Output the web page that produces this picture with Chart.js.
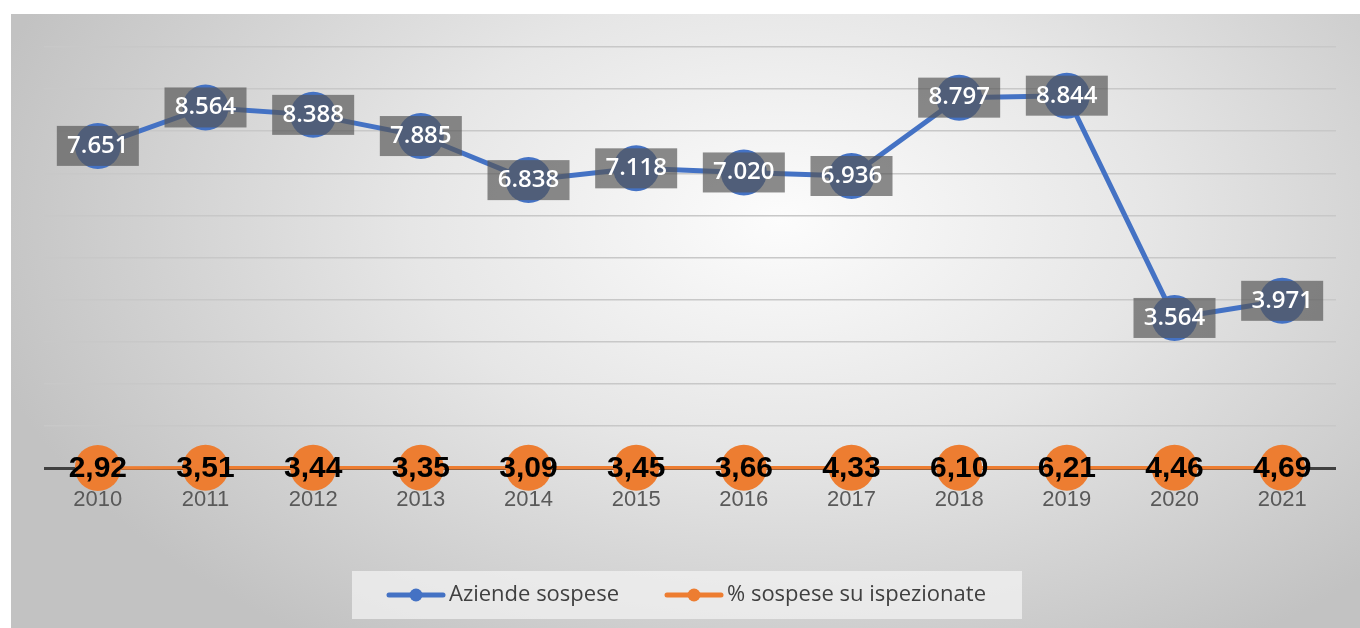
<!DOCTYPE html>
<html lang="it">
<head>
<meta charset="UTF-8">
<title>Aziende sospese</title>
<style>
  html, body { margin: 0; padding: 0; background: #fff; }
  #wrap { width: 1360px; height: 628px; }
</style>
</head>
<body>
<div id="wrap">
  <canvas id="myChart" width="1360" height="628"></canvas>
</div>
<script src="https://cdn.jsdelivr.net/npm/chart.js"></script>
<script>
    const years = ['2010', '2011', '2012', '2013', '2014', '2015', '2016', '2017', '2018', '2019', '2020', '2021'];
    const aziendeSospese = [7651, 8564, 8388, 7885, 6838, 7118, 7020, 6936, 8797, 8844, 3564, 3971];
    const percSospese = [2.92, 3.51, 3.44, 3.35, 3.09, 3.45, 3.66, 4.33, 6.10, 6.21, 4.46, 4.69];

    const BLUE = '#4472C4';
    const ORANGE = '#ED7D31';

    // thousands with a dot, decimals with a comma
    function fmtInt(v) {
        return String(v).replace(/\B(?=(\d{3})+(?!\d))/g, '.');
    }
    function fmtPerc(v) {
        return v.toFixed(2).replace('.', ',');
    }

    // legend marker: a short line with a dot in the middle
    function legendMarker(color) {
        const c = document.createElement('canvas');
        c.width = 60;
        c.height = 14;
        const g = c.getContext('2d');
        g.strokeStyle = color;
        g.lineWidth = 5;
        g.lineCap = 'round';
        g.beginPath();
        g.moveTo(3, 7);
        g.lineTo(57, 7);
        g.stroke();
        g.fillStyle = color;
        g.beginPath();
        g.arc(30, 7, 6.5, 0, Math.PI * 2);
        g.fill();
        return c;
    }
    const markers = [legendMarker(BLUE), legendMarker(ORANGE)];

    const background = {
        id: 'background',
        beforeDraw(chart) {
            const ctx = chart.ctx;
            ctx.save();
            ctx.fillStyle = '#ffffff';
            ctx.fillRect(0, 0, chart.width, chart.height);
            // grey panel with a soft light spot
            ctx.save();
            ctx.translate(780, 220);
            ctx.scale(1, 0.62);
            const grad = ctx.createRadialGradient(0, 0, 0, 0, 0, 820);
            grad.addColorStop(0, '#fcfcfc');
            grad.addColorStop(0.45, '#e6e6e6');
            grad.addColorStop(1, '#c2c2c2');
            ctx.fillStyle = grad;
            ctx.fillRect(-780, -1000, 2200, 2200);
            ctx.restore();
            ctx.fillStyle = '#ffffff';
            ctx.fillRect(0, 0, chart.width, 14);
            ctx.fillRect(0, 0, 11, chart.height);
            // legend panel
            const boxes = chart.legend.legendHitBoxes;
            if (boxes && boxes.length) {
                const left = Math.min(...boxes.map(b => b.left)) - 42;
                const right = Math.max(...boxes.map(b => b.left + b.width)) + 36;
                const cy = boxes[0].top + boxes[0].height / 2;
                ctx.fillStyle = 'rgba(242,242,242,0.75)';
                ctx.fillRect(left, cy - 24, right - left, 48);
            }
            ctx.restore();
        }
    };

    const valueLabels = {
        id: 'valueLabels',
        afterDatasetsDraw(chart) {
            const ctx = chart.ctx;
            ctx.save();
            ctx.textAlign = 'center';
            ctx.textBaseline = 'middle';
            chart.getDatasetMeta(0).data.forEach((pt, i) => {
                ctx.fillStyle = 'rgba(85,85,85,0.68)';
                ctx.fillRect(pt.x - 41, pt.y - 20, 82, 40);
                ctx.fillStyle = '#ffffff';
                ctx.font = '600 24px "Open Sans"';
                ctx.fillText(fmtInt(aziendeSospese[i]), pt.x, pt.y);
            });
            chart.getDatasetMeta(1).data.forEach((pt, i) => {
                ctx.fillStyle = '#000000';
                ctx.font = 'bold 30px "Liberation Sans"';
                ctx.fillText(fmtPerc(percSospese[i]), pt.x, pt.y + 1);
            });
            ctx.restore();
        }
    };

    const ctx = document.getElementById('myChart');
    new Chart(ctx, {
        type: 'line',
        data: {
            labels: years,
            datasets: [{
                label: 'Aziende sospese',
                data: aziendeSospese,
                borderColor: BLUE,
                backgroundColor: BLUE,
                borderWidth: 5,
                pointRadius: 23,
                pointHoverRadius: 23,
                pointBorderWidth: 0,
                clip: false
            }, {
                label: '% sospese su ispezionate',
                data: percSospese,
                borderColor: ORANGE,
                backgroundColor: ORANGE,
                borderWidth: 3.5,
                pointRadius: 23,
                pointHoverRadius: 23,
                pointBorderWidth: 0,
                clip: false
            }]
        },
        options: {
            responsive: false,
            animation: false,
            layout: {
                padding: { left: 44, right: 24, top: 47, bottom: 12 }
            },
            scales: {
                x: {
                    offset: true,
                    grid: { display: false },
                    border: { display: false },
                    ticks: {
                        color: '#595959',
                        font: { family: '"Liberation Sans"', size: 22 },
                        padding: 11
                    },
                    afterFit(scale) { scale.height = 63; }
                },
                y: {
                    min: 0,
                    max: 10000,
                    border: { display: false },
                    grid: {
                        drawTicks: false,
                        color: c => c.tick.value === 0 ? '#404040' : '#c8c8c8',
                        lineWidth: c => c.tick.value === 0 ? 3 : 1.5
                    },
                    ticks: { display: false, stepSize: 1000 },
                    afterFit(scale) { scale.width = 0; }
                }
            },
            plugins: {
                tooltip: { enabled: false },
                legend: {
                    position: 'bottom',
                    labels: {
                        usePointStyle: true,
                        pointStyleWidth: 44,
                        padding: 53,
                        color: '#404040',
                        font: { family: '"Open Sans"', size: 22 },
                        generateLabels(chart) {
                            const items = Chart.defaults.plugins.legend.labels.generateLabels(chart);
                            items.forEach((it, i) => { it.pointStyle = markers[i]; });
                            return items;
                        }
                    }
                }
            }
        },
        plugins: [background, valueLabels]
    });
</script>
</body>
</html>
